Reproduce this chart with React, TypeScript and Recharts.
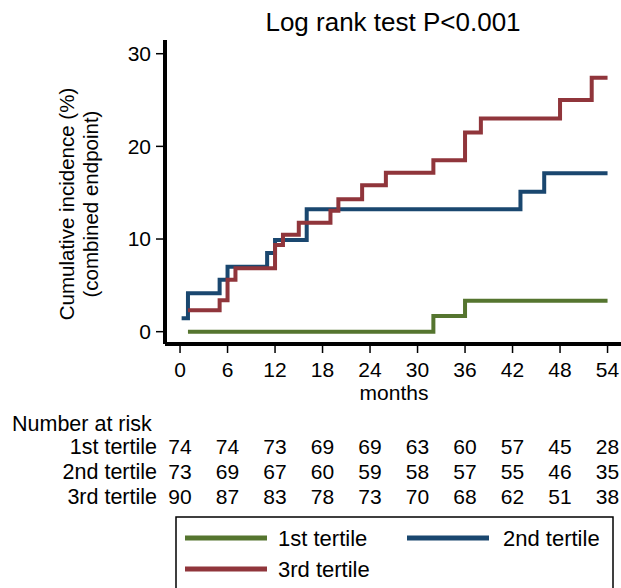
import React from 'react'
import { LineChart, Line, XAxis, YAxis, Customized } from 'recharts'

// months at which the step occurs, and cumulative incidence (%) after it
const t1Months = [1, 32, 36, 54]
const t1Values = [0, 1.7, 3.35, 3.35]

const t2Months = [0.2, 1, 5, 6, 11, 12, 16, 43, 46, 54]
const t2Values = [1.45, 4.15, 5.6, 7.0, 8.5, 9.9, 13.2, 15.1, 17.1, 17.1]

const t3Months = [1, 5, 6, 7, 12, 13, 15, 19, 20, 23, 26, 32, 36, 38, 48, 52, 54]
const t3Values = [2.3, 3.4, 5.6, 6.85, 9.35, 10.45, 11.75, 13.05, 14.3, 15.8, 17.15, 18.5, 21.5, 23.0, 25.0, 27.4, 27.4]

const monthTicks = [0, 6, 12, 18, 24, 30, 36, 42, 48, 54]
const incidenceTicks = [0, 10, 20, 30]

const groupNames = ['1st tertile', '2nd tertile', '3rd tertile']
const risk1 = [74, 74, 73, 69, 69, 63, 60, 57, 45, 28]
const risk2 = [73, 69, 67, 60, 59, 58, 57, 55, 46, 35]
const risk3 = [90, 87, 83, 78, 73, 70, 68, 62, 51, 38]
const riskRows = [risk1, risk2, risk3]

const toPoints = (months: number[], values: number[]) =>
  months.map((t, i) => ({ t, v: values[i] }))

const FONT = '"Liberation Sans", Arial, sans-serif'
const GREEN = '#55752f'
const NAVY = '#1a476f'
const MAROON = '#90353b'
const colors = [GREEN, NAVY, MAROON]

const rowY = [454, 479, 504]

const MonthTick = (props: any) => {
  const { x, payload } = props
  const idx = monthTicks.indexOf(payload.value)
  return (
    <g fontFamily={FONT} fill="#000">
      <text x={x} y={377} textAnchor="middle" fontSize={21}>
        {payload.value}
      </text>
      {riskRows.map((row, r) => (
        <text key={r} x={x} y={rowY[r]} textAnchor="middle" fontSize={21}>
          {row[idx]}
        </text>
      ))}
    </g>
  )
}

const Extras = () => (
  <g fontFamily={FONT} fill="#000">
    <text x={393} y={31} textAnchor="middle" fontSize={26}>
      Log rank test P&lt;0.001
    </text>
    <text
      x={66}
      y={204}
      textAnchor="middle"
      dominantBaseline="central"
      fontSize={20.5}
      transform="rotate(-90 66 204)"
    >
      Cumulative incidence (%)
    </text>
    <text
      x={90}
      y={204}
      textAnchor="middle"
      dominantBaseline="central"
      fontSize={20.5}
      transform="rotate(-90 90 204)"
    >
      (combined endpoint)
    </text>
    <text x={394} y={400} textAnchor="middle" fontSize={21}>
      months
    </text>
    <text x={12} y={431} fontSize={21.5}>
      Number at risk
    </text>
    {groupNames.map((name, r) => (
      <text key={name} x={157} y={rowY[r]} textAnchor="end" fontSize={21.5}>
        {name}
      </text>
    ))}

    {/* legend */}
    <rect x={176} y={517} width={437} height={90} fill="#fff" stroke="#000" strokeWidth={1.5} />
    <line x1={185} x2={267} y1={538} y2={538} stroke={colors[0]} strokeWidth={5} />
    <text x={278} y={538} dominantBaseline="central" fontSize={22}>{groupNames[0]}</text>
    <line x1={407} x2={489} y1={538} y2={538} stroke={colors[1]} strokeWidth={5} />
    <text x={503} y={538} dominantBaseline="central" fontSize={22}>{groupNames[1]}</text>
    <line x1={185} x2={267} y1={569} y2={569} stroke={colors[2]} strokeWidth={5} />
    <text x={278} y={569} dominantBaseline="central" fontSize={22}>{groupNames[2]}</text>
  </g>
)

export default function App() {
  return (
    <div style={{ position: 'absolute', left: 0, top: 0, width: 621, height: 588, background: '#fff' }}>
      <LineChart width={621} height={588} margin={{ top: 40, right: 0, bottom: 0, left: 0 }}>
        <XAxis
          dataKey="t"
          type="number"
          domain={[-1.9, 55.7]}
          allowDataOverflow
          ticks={monthTicks}
          interval={0}
          height={244}
          axisLine={{ stroke: '#000', strokeWidth: 4 }}
          tickLine={{ stroke: '#000', strokeWidth: 1.5 }}
          tickSize={9}
          tick={<MonthTick />}
        />
        <YAxis
          type="number"
          domain={[-1.33, 31.48]}
          allowDataOverflow
          ticks={incidenceTicks}
          interval={0}
          width={165}
          axisLine={{ stroke: '#000', strokeWidth: 4 }}
          tickLine={{ stroke: '#000', strokeWidth: 1.5 }}
          tickSize={9}
          tickMargin={5}
          tick={{ fontSize: 21, fill: '#000', fontFamily: FONT }}
        />
        <Line
          data={toPoints(t1Months, t1Values)}
          dataKey="v"
          type="stepAfter"
          stroke={GREEN}
          strokeWidth={4}
          dot={false}
          isAnimationActive={false}
        />
        <Line
          data={toPoints(t2Months, t2Values)}
          dataKey="v"
          type="stepAfter"
          stroke={NAVY}
          strokeWidth={4}
          dot={false}
          isAnimationActive={false}
        />
        <Line
          data={toPoints(t3Months, t3Values)}
          dataKey="v"
          type="stepAfter"
          stroke={MAROON}
          strokeWidth={4}
          dot={false}
          isAnimationActive={false}
        />
        <Customized component={Extras} />
      </LineChart>
    </div>
  )
}
